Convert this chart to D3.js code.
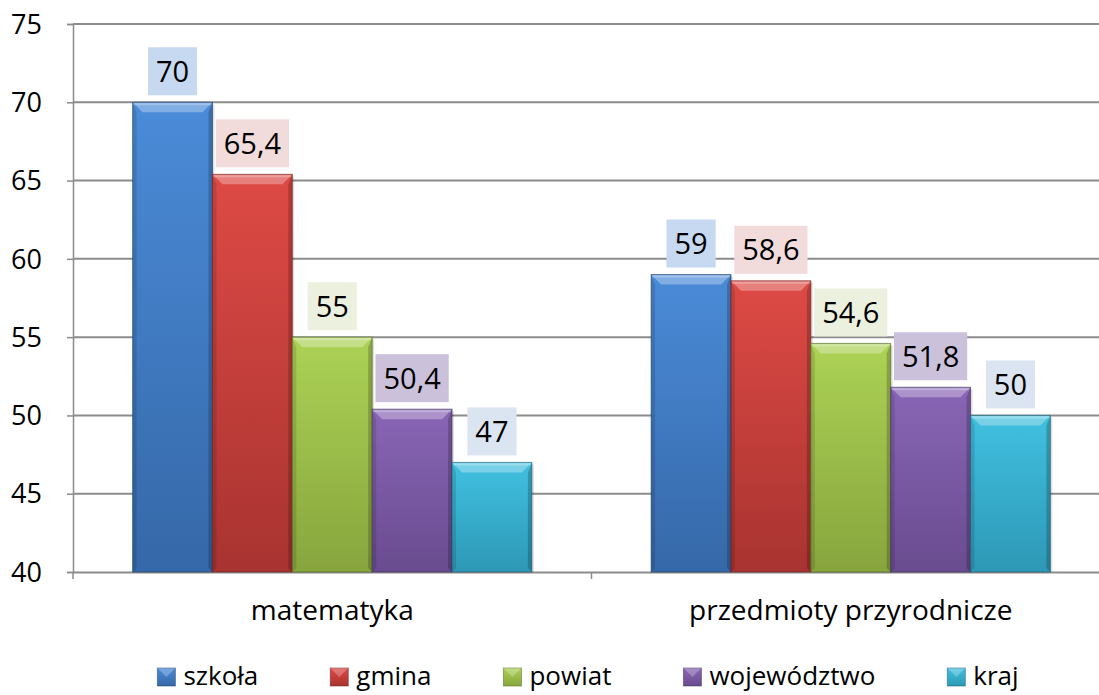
<!DOCTYPE html>
<html>
<head>
<meta charset="utf-8">
<script src="https://cdn.jsdelivr.net/npm/d3@7"></script>
<style>
  body { margin: 0; background: #fff; }
  svg text { font-family: "Open Sans", "Noto Sans", sans-serif; fill: #000; }
</style>
</head>
<body>
<div id="chart"></div>
<script>
var categories = ["matematyka", "przedmioty przyrodnicze"];
var seriesNames = ["szkoła", "gmina", "powiat", "województwo", "kraj"];
var matematyka = [70, 65.4, 55, 50.4, 47];
var przyrodnicze = [59, 58.6, 54.6, 51.8, 50];
var yTicks = [40, 45, 50, 55, 60, 65, 70, 75];

var barTop = ["#4b8bd8", "#de4a45", "#acd255", "#8966b6", "#41c0e0"];
var barBottom = ["#3568a8", "#a83330", "#87a53d", "#694b8f", "#2d98b6"];
var labelBg = ["#c6d9f1", "#f2dcdb", "#ebf1de", "#ccc1da", "#dbe5f1"];
var edgeCol = ["#1f3c64", "#6a1e1c", "#4f6223", "#3d2b55", "#1b5a6c"];

var table = categories.map(function(c, i) {
  return { cat: c, values: [matematyka, przyrodnicze][i] };
});

var W = 1099, H = 695;
var margin = {top: 24, right: -11, bottom: 123, left: 73};
var width = W - margin.left - margin.right;
var height = H - margin.top - margin.bottom;

var fmt = d3.formatLocale({decimal: ",", thousands: " ", grouping: [3], currency: ["", ""]}).format("~g");

var svg = d3.select("#chart").append("svg")
  .attr("width", W).attr("height", H);

var defs = svg.append("defs");
seriesNames.forEach(function(s, i) {
  var g = defs.append("linearGradient").attr("id", "grad" + i)
    .attr("x1", 0).attr("y1", 0).attr("x2", 0).attr("y2", 1);
  g.append("stop").attr("offset", "0%").attr("stop-color", barTop[i]);
  g.append("stop").attr("offset", "100%").attr("stop-color", barBottom[i]);
});

var g = svg.append("g").attr("transform", "translate(" + margin.left + "," + margin.top + ")");

var x0 = d3.scaleBand().domain(categories).range([0, width]).padding(0);
var gap = x0.bandwidth() * 0.115;
var x1 = d3.scaleBand().domain(seriesNames).range([gap, x0.bandwidth() - gap]).padding(0);
var y = d3.scaleLinear().domain([40, 75]).range([height, 0]);

// gridlines
g.append("g").selectAll("line").data(yTicks.slice(1)).enter().append("line")
  .attr("x1", 0).attr("x2", width)
  .attr("y1", function(d) { return y(d); }).attr("y2", function(d) { return y(d); })
  .attr("stroke", "#8c8c8c").attr("stroke-width", 2);

// y axis
var yAxis = g.append("g")
  .call(d3.axisLeft(y).tickValues(yTicks).tickSize(6).tickPadding(25).tickFormat(fmt));
yAxis.select(".domain").attr("stroke", "#8c8c8c").attr("stroke-width", 1.5);
yAxis.selectAll(".tick line").attr("stroke", "#8c8c8c").attr("stroke-width", 1.5);
yAxis.selectAll("text").style("font-size", "27px").attr("dy", "0.34em");

// x axis
var xAxis = g.append("g").attr("transform", "translate(0," + height + ")")
  .call(d3.axisBottom(x0).tickSize(0).tickPadding(28));
xAxis.select(".domain").attr("stroke", "#8c8c8c").attr("stroke-width", 2);
xAxis.selectAll("text").style("font-size", "28px");
xAxis.append("g").selectAll("line").data([0, x0.bandwidth()]).enter().append("line")
  .attr("x1", function(d) { return d; }).attr("x2", function(d) { return d; })
  .attr("y1", 0).attr("y2", 7).attr("stroke", "#8c8c8c").attr("stroke-width", 1.5);

// bars
var groups = g.selectAll(".grp").data(table).enter().append("g")
  .attr("transform", function(d) { return "translate(" + x0(d.cat) + ",0)"; });

var bars = groups.selectAll(".bar").data(function(d) {
  return d.values.map(function(v, i) { return {s: seriesNames[i], i: i, v: v}; });
}).enter().append("g");

var bv = 10, sd = 4;
bars.each(function(d) {
  var sel = d3.select(this);
  var bx = x1(d.s), bw = x1.bandwidth(), by = y(d.v), bh = height - y(d.v);
  sel.append("rect").attr("x", bx + 2).attr("y", by + 2).attr("width", bw).attr("height", bh - 2)
    .attr("fill", "#000").attr("opacity", 0.12);
  sel.append("rect").attr("x", bx).attr("y", by).attr("width", bw).attr("height", bh)
    .attr("fill", "url(#grad" + d.i + ")");
  // top bevel
  sel.append("polygon")
    .attr("points", [[bx, by], [bx + bw, by], [bx + bw - bv, by + bv], [bx + bv, by + bv]].join(" "))
    .attr("fill", "#fff").attr("opacity", 0.3);
  sel.append("rect").attr("x", bx + 1).attr("y", by + 1).attr("width", bw - 2).attr("height", 2)
    .attr("fill", "#fff").attr("opacity", 0.25);
  // sides
  sel.append("polygon")
    .attr("points", [[bx, by], [bx + sd, by + bv], [bx + sd, by + bh - sd], [bx, by + bh]].join(" "))
    .attr("fill", "#000").attr("opacity", 0.12);
  sel.append("polygon")
    .attr("points", [[bx + bw, by], [bx + bw - sd, by + bv], [bx + bw - sd, by + bh - sd], [bx + bw, by + bh]].join(" "))
    .attr("fill", "#000").attr("opacity", 0.2);
  sel.append("rect").attr("x", bx).attr("y", by).attr("width", bw).attr("height", bh)
    .attr("fill", "none").attr("stroke", edgeCol[d.i]).attr("stroke-opacity", 0.6).attr("stroke-width", 1);

  // label
  var lab = sel.append("g");
  var t = lab.append("text").attr("x", bx + bw / 2).attr("y", by - 31)
    .attr("text-anchor", "middle").attr("dy", "0.36em")
    .style("font-size", "29px").text(fmt(d.v));
  var tw = t.node().getComputedTextLength();
  lab.insert("rect", "text").attr("x", bx + bw / 2 - tw / 2 - 8).attr("y", by - 55)
    .attr("width", tw + 16).attr("height", 48).attr("fill", labelBg[d.i]);
});

// legend
var legend = svg.append("g").attr("transform", "translate(0,676)");
var items = legend.selectAll(".li").data(seriesNames).enter().append("g");
items.append("rect").attr("x", 0).attr("y", -8).attr("width", 18).attr("height", 18)
  .attr("fill", function(d, i) { return "url(#grad" + i + ")"; })
  .attr("stroke", function(d, i) { return edgeCol[i]; }).attr("stroke-opacity", 0.5);
items.append("polygon").attr("points", "0,-8 18,-8 9,1")
  .attr("fill", "#fff").attr("opacity", 0.25);
items.append("text").attr("x", 26).attr("dy", "0.36em").style("font-size", "26px").text(function(d) { return d; });
var legGap = 72;
var pos = 0, starts = [];
items.each(function() {
  starts.push(pos);
  pos += this.getBBox().width + legGap;
});
var total = pos - legGap;
var lx = 588 - total / 2;
items.attr("transform", function(d, i) { return "translate(" + (lx + starts[i]) + ",0)"; });
</script>
</body>
</html>
